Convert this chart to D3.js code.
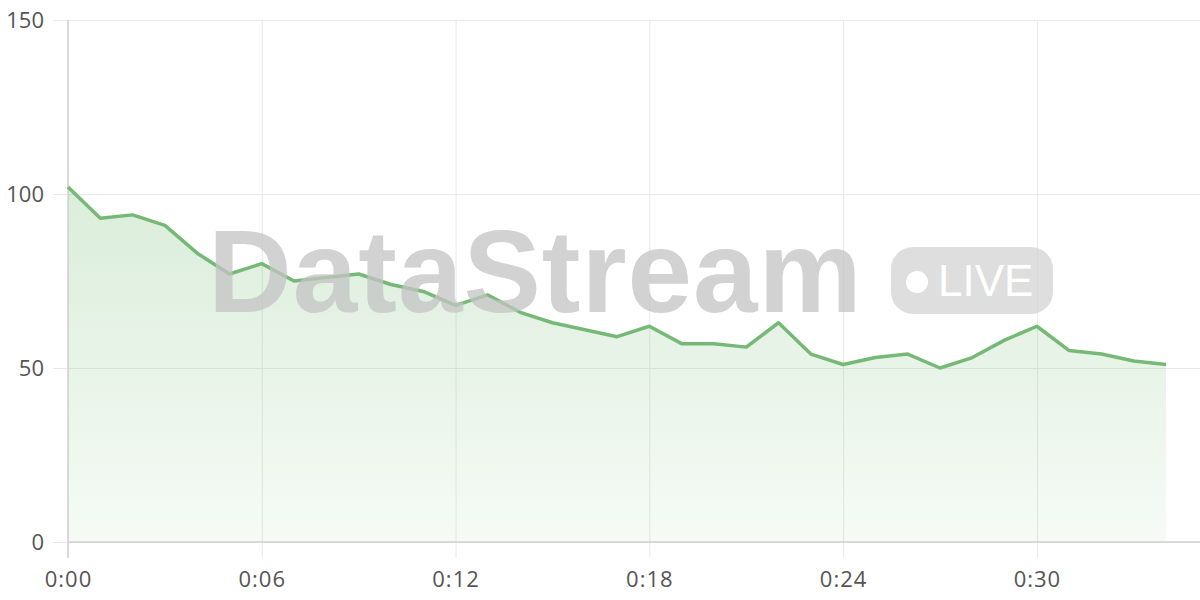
<!DOCTYPE html>
<html>
<head>
<meta charset="utf-8">
<script src="https://cdn.jsdelivr.net/npm/d3@7"></script>
<style>
  html, body { margin: 0; padding: 0; background: #fff; }
  svg { display: block; }
</style>
</head>
<body>
<svg class="chart" width="1200" height="600"></svg>
<script>
// minutes since start, one reading per minute
var minutes = d3.range(0, 35);
var values = [102, 93, 94, 91, 83, 77, 80, 75, 76, 77, 74, 72, 68, 71, 66, 63, 61, 59, 62, 57,
              57, 56, 63, 54, 51, 53, 54, 50, 53, 58, 62, 55, 54, 52, 51];
var xTicks = [0, 6, 12, 18, 24, 30];
var yTicks = [0, 50, 100, 150];
var watermark = "DataStream";
var badge = "LIVE";

var svg = d3.select(".chart"),
    margin = {top: 20, right: 0, bottom: 58, left: 68},
    width = 1200 - margin.left - margin.right,
    height = 600 - margin.top - margin.bottom,
    g = svg.append("g").attr("transform", "translate(" + margin.left + "," + margin.top + ")");

var data = minutes.map(function(m, i) { return {m: m, v: values[i]}; });

var x = d3.scaleLinear().domain([0, 35.05]).range([0, width]),
    y = d3.scaleLinear().domain([0, 150]).range([height, 0]);

var font = "'Open Sans', 'DejaVu Sans', sans-serif";

// gradient for area
var grad = svg.append("defs").append("linearGradient")
    .attr("id", "fillGrad").attr("x1", 0).attr("y1", 0).attr("x2", 0).attr("y2", 1);
grad.append("stop").attr("offset", "0%").attr("stop-color", "#7cbf7c").attr("stop-opacity", 0.28);
grad.append("stop").attr("offset", "100%").attr("stop-color", "#7cbf7c").attr("stop-opacity", 0.07);

// horizontal grid + y labels
var yAxis = g.append("g")
    .attr("class", "axis axis--y")
    .call(d3.axisLeft(y).tickValues(yTicks).tickSize(-width).tickSizeOuter(0));
yAxis.select(".domain").remove();
yAxis.selectAll(".tick line").attr("stroke", "#e8e8e8").attr("x1", -15);
yAxis.selectAll(".tick text")
    .attr("x", -24).attr("fill", "#555").style("font", "22px " + font);

// vertical grid + x labels
var xAxis = g.append("g")
    .attr("class", "axis axis--x")
    .attr("transform", "translate(0," + height + ")")
    .call(d3.axisBottom(x).tickValues(xTicks).tickSize(-height).tickSizeOuter(0)
        .tickFormat(function(d) { return "0:" + d3.format("02d")(d); }));
xAxis.select(".domain").remove();
xAxis.selectAll(".tick line").attr("stroke", "#e8e8e8").attr("y2", 16).attr("y1", -height);
xAxis.selectAll(".tick text")
    .attr("y", 45).attr("dy", "0").attr("fill", "#555")
    .style("font", "22px " + font).style("letter-spacing", "1px");

// area
var area = d3.area()
    .x(function(d) { return x(d.m); })
    .y0(y(0))
    .y1(function(d) { return y(d.v); });

g.append("path")
    .datum(data)
    .attr("d", area)
    .attr("fill", "url(#fillGrad)");

// axis lines
g.append("line").attr("x1", 0).attr("x2", width).attr("y1", height).attr("y2", height)
    .attr("stroke", "#d0d0d0").attr("stroke-width", 1.5);
g.append("line").attr("x1", 0).attr("x2", 0).attr("y1", 0).attr("y2", height + 16)
    .attr("stroke", "#d0d0d0").attr("stroke-width", 1.5);

// watermark
var wm = svg.append("g").attr("class", "watermark").style("opacity", 0.75);
wm.append("text")
    .attr("x", 208).attr("y", 312)
    .attr("fill", "#c4c4c4")
    .style("font", "bold 116px 'Liberation Sans', Arial, sans-serif")
    .style("letter-spacing", "1px")
    .text(watermark);
wm.append("rect")
    .attr("x", 891).attr("y", 247).attr("width", 162).attr("height", 67).attr("rx", 22)
    .attr("fill", "#d4d4d4");
wm.append("circle").attr("cx", 917).attr("cy", 282).attr("r", 11).attr("fill", "#fff");
wm.append("text")
    .attr("x", 938).attr("y", 296)
    .attr("fill", "#fff")
    .style("font", "44px 'Liberation Sans', Arial, sans-serif")
    .text(badge);

// line
var line = d3.line()
    .x(function(d) { return x(d.m); })
    .y(function(d) { return y(d.v); });

g.append("path")
    .datum(data)
    .attr("d", line)
    .style("fill", "none")
    .style("stroke", "#76b976")
    .style("stroke-width", 3.5)
    .style("stroke-linejoin", "round");
</script>
</body>
</html>
